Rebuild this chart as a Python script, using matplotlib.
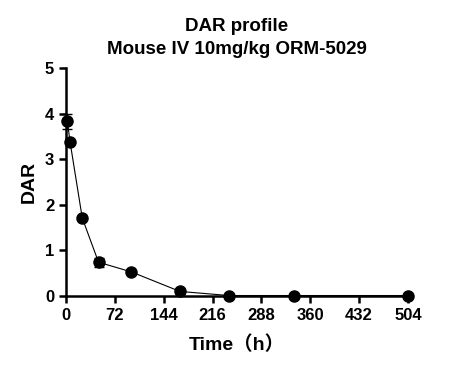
import matplotlib
matplotlib.use('Agg')
import matplotlib.pyplot as plt

# DAR over time (mean, sd)
tempo = [2, 6, 24, 48, 96, 168, 240, 336, 504]
dar = [3.83, 3.38, 1.71, 0.74, 0.53, 0.10, 0.01, 0.01, 0.01]
dar_sd = [0.17, 0.03, 0.03, 0.10, 0.03, 0.02, 0.0, 0.0, 0.0]
xticks = [0, 72, 144, 216, 288, 360, 432, 504]
yticks = [0, 1, 2, 3, 4, 5]

plt.rcParams['font.family'] = ['Liberation Sans', 'Noto Sans CJK SC', 'DejaVu Sans']
plt.rcParams['font.weight'] = 'bold'

fig = plt.figure(figsize=(4.63, 3.75), dpi=100)
ax = fig.add_axes([0.1425, 0.2107, 0.7385, 0.608])

ax.errorbar(tempo, dar, yerr=dar_sd, color='black', marker='o', markersize=8,
            linewidth=0.8, elinewidth=1.0, capsize=3.5, capthick=1.0, clip_on=False, zorder=3)

ax.set_xlim(0, 504)
ax.set_ylim(0, 5)
ax.set_xticks(xticks)
ax.set_yticks(yticks)
for s in ['top', 'right']:
    ax.spines[s].set_visible(False)
for s in ['left', 'bottom']:
    ax.spines[s].set_linewidth(1.8)
ax.tick_params(width=1.8, length=5, labelsize=12)
for lab in ax.get_xticklabels() + ax.get_yticklabels():
    lab.set_fontweight('bold')

ax.set_xlabel('Time（h）', fontsize=14, fontweight='bold', labelpad=9)
ax.set_ylabel('DAR', fontsize=14, fontweight='bold', labelpad=5)
ax.set_title('DAR profile\nMouse IV 10mg/kg ORM-5029', fontsize=13.5, fontweight='bold',
             pad=10, linespacing=1.45)

fig.savefig('out.png', dpi=100)
